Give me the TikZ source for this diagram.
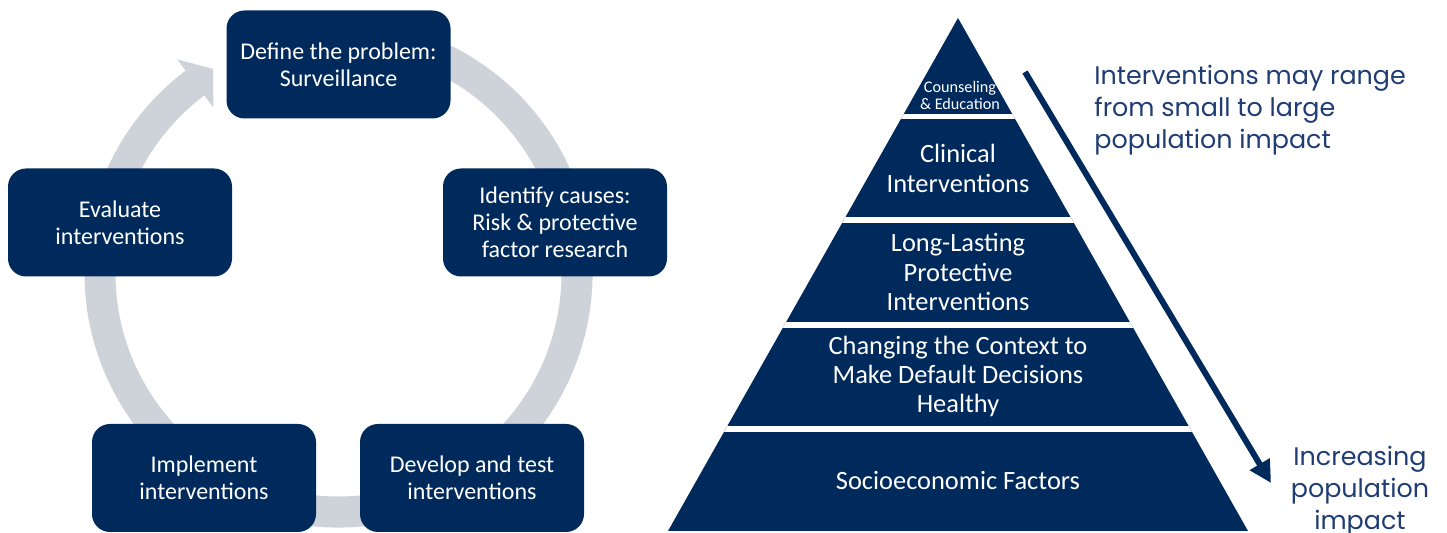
\documentclass[tikz,border=0pt]{standalone}
\usepackage{fontspec}
\setmainfont{Carlito}
\newfontfamily\gothic{Poppins}
\usetikzlibrary{arrows.meta,calc}
\definecolor{navy}{RGB}{0,42,92}
\definecolor{ringgray}{RGB}{205,211,216}
\definecolor{textblue}{RGB}{31,61,115}
\tikzset{
  stepbox/.style={fill=navy, rounded corners=9pt, minimum width=112pt, minimum height=54pt,
    text=white, align=center, font=\fontsize{12}{13.5}\selectfont, inner sep=0pt},
  tiertext/.style={text=white, align=center, font=\fontsize{13.2}{14.6}\selectfont, inner sep=0pt},
  sidetext/.style={text=textblue, font=\gothic\fontsize{12.7}{16}\selectfont, inner sep=0pt}
}
\begin{document}
\begin{tikzpicture}[x=0.5pt,y=-0.5pt]
\useasboundingbox (0,0) rectangle (1447,533);
% ring
\coordinate (C) at (338.5,273.5);
\fill[ringgray] ($(C)+(-110:254)$) arc[start angle=-110, end angle=233, radius=254]
  -- ($(C)+(-127:268)$) -- ($(C)+(-121.5:240)$) -- ($(C)+(-127:208)$)
  -- ($(C)+(-127:223)$) arc[start angle=233, end angle=-110, radius=223] -- cycle;
% boxes
\node[stepbox] (define) at (338.5,64.5) {Define the problem:\\Surveillance};
\node[stepbox] (identify) at (555,222.5) {Identify causes:\\Risk \& protective\\factor research};
\node[stepbox] (develop) at (472,478) {Develop and test\\interventions};
\node[stepbox] (implement) at (204,478) {Implement\\interventions};
\node[stepbox] (evaluate) at (120,222.5) {Evaluate\\interventions};
% pyramid
\fill[navy] (958,18) -- (668,531) -- (1248,531) -- cycle;
\begin{scope}
\clip (958,18) -- (668,531) -- (1248,531) -- cycle;
\fill[white] (600,114) rectangle (1300,119.5);
\fill[white] (600,217) rectangle (1300,223);
\fill[white] (600,322) rectangle (1300,328);
\fill[white] (600,426) rectangle (1300,432);
\end{scope}
\node[tiertext, font=\fontsize{8.1}{8.5}\selectfont] (t1) at (960,95.5) {Counseling\\\& Education};
\node[tiertext] (t2) at (958,168.5) {Clinical\\Interventions};
\node[tiertext] (t3) at (958,272) {Long-Lasting\\Protective\\Interventions};
\node[tiertext] (t4) at (958,376.5) {Changing the Context to\\Make Default Decisions\\Healthy};
\node[tiertext] (t5) at (958,481) {Socioeconomic Factors};
% arrow
\coordinate (a1) at (1025,72);
\coordinate (a2) at (1271,483);
\draw[navy, line width=3pt, -{Triangle[length=11pt,width=11pt]}] (a1) -- (a2);
% side texts
\node[sidetext, anchor=west, align=left] (range) at (1094,110) {Interventions may range\\from small to large\\population impact};
\node[sidetext, align=center] (incr) at (1360,491) {Increasing\\population\\impact};
\end{tikzpicture}
\end{document}
